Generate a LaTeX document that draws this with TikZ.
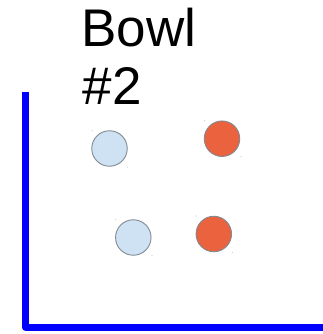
\documentclass[tikz,border=0pt]{standalone}
\usepackage{fontspec}
\setmainfont{Liberation Sans}
\definecolor{ballblue}{HTML}{CFE2F3}
\definecolor{ballred}{HTML}{EA623E}
\definecolor{ballrim}{HTML}{808A90}
\definecolor{axisblue}{HTML}{0000FF}
\begin{document}
\begin{tikzpicture}[x=1pt,y=-1pt,
  ball/.style={circle,draw=ballrim,line width=0.9pt,minimum size=35.5pt,inner sep=0pt},
  blueball/.style={ball,fill=ballblue},
  redball/.style={ball,fill=ballred},
  speck/.style={fill=gray!45,draw=none,circle,inner sep=0pt,minimum size=1.2pt},
  label/.style={anchor=base west,inner sep=0pt,font=\fontsize{53}{58}\selectfont}]
\useasboundingbox (0,0) rectangle (322,334);
\draw[axisblue,line width=7pt,line join=round] (25.5,92) -- (25.5,327) -- (325,327);
\node[label] (t1) at (81,46.7) {Bowl};
\node[label] (t2) at (82.5,104) {\#2};
\node[blueball] (b1) at (109.5,148.5) {};
\node[redball] (r1) at (222,138.7) {};
\node[blueball] (b2) at (133.3,237.5) {};
\node[redball] (r2) at (213.8,234) {};
\node[speck] (s1) at (92.3,130.7) {};
\node[speck] (s2) at (127.7,167) {};
\node[speck] (s3) at (204.7,120.7) {};
\node[speck] (s4) at (241,156.7) {};
\node[speck] (s5) at (115.7,219.3) {};
\node[speck] (s6) at (152,255.7) {};
\node[speck] (s7) at (196.3,216) {};
\node[speck] (s8) at (232.3,252.3) {};
\end{tikzpicture}
\end{document}
